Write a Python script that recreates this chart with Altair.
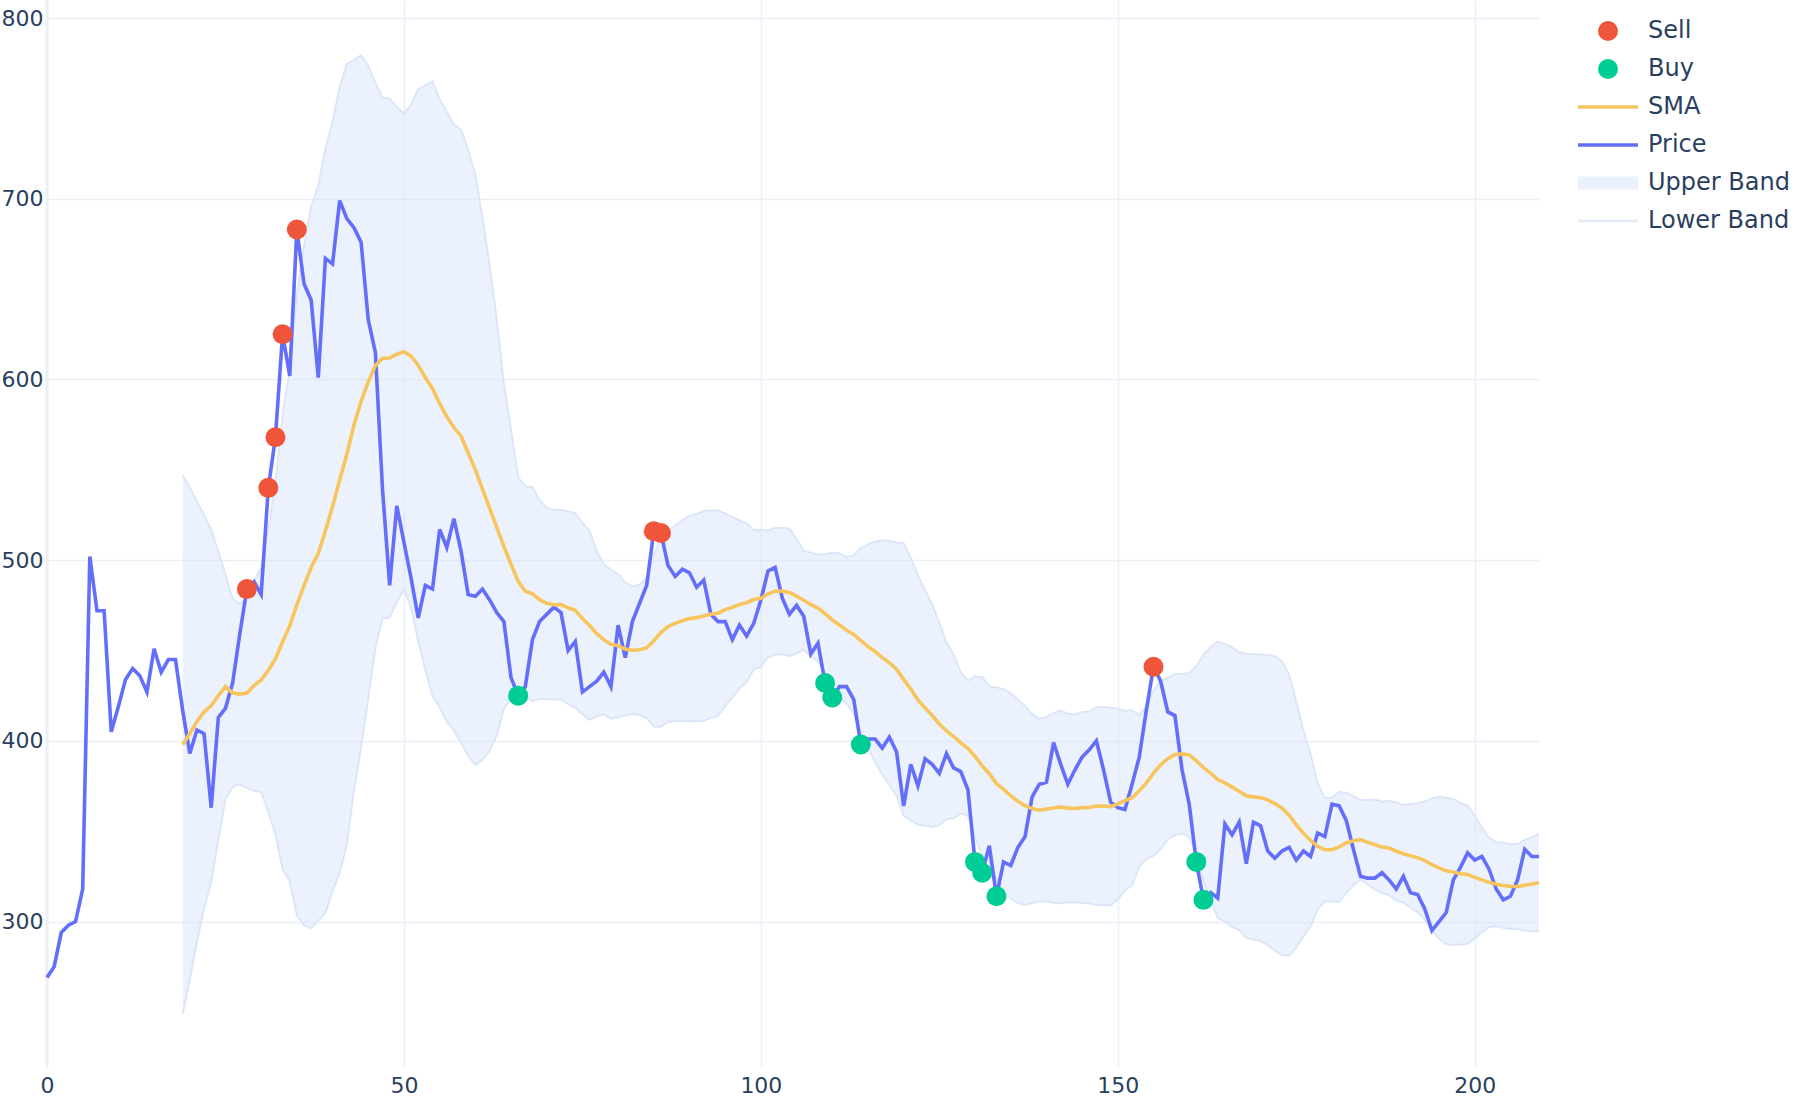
import altair as alt
import pandas as pd

# ---- data ----
price = [
    269, 275, 294, 298, 300, 318, 502, 472, 472, 405,
    419, 434, 440, 436, 427, 451, 438, 445, 445, 417,
    393, 406, 404, 363, 413, 418, 432, 459, 484, 488,
    481, 540, 568, 625, 602, 683, 653, 644, 601, 667,
    664, 699, 689, 684, 676, 633, 615, 539, 486, 530,
    510, 490, 468, 486, 484, 517, 507, 523, 505, 481,
    480, 484, 478, 471, 466, 435, 425, 430, 456, 466,
    470, 474, 471, 450, 455, 427, 430, 433, 438, 430,
    464, 446, 466, 476, 486, 516, 515, 497, 491, 495,
    493, 485, 489, 470, 466, 466, 456, 464, 458, 465,
    478, 494, 496, 479, 470, 475, 469, 448, 454, 432,
    424, 430, 430, 423, 398, 401, 401, 396, 402, 394,
    364, 387, 375, 390, 387, 382, 393, 385, 383, 373,
    333, 327, 342, 314, 333, 331, 341, 347, 369, 376,
    377, 399, 387, 376, 384, 391, 395, 400, 384, 366,
    363, 362, 376, 391, 417, 441, 433, 416, 414, 384,
    365, 333, 312, 316, 313, 354, 348, 355, 332, 355,
    353, 339, 335, 339, 341, 334, 339, 336, 349, 347,
    365, 364, 356, 340, 325, 324, 324, 327, 323, 318,
    325, 316, 315, 307, 295, 300, 305, 323, 330, 338,
    334, 336, 329, 318, 312, 314, 323, 340, 336, 336,
]
sell_idx = [28, 31, 32, 33, 35, 85, 86, 155]
buy_idx = [66, 109, 110, 114, 130, 131, 133, 161, 162]
sma_window = 20

series_names = ["Sell", "Buy", "SMA", "Price", "Upper Band", "Lower Band"]
series_colors = ["#EF553B", "#00CC96", "#F7C55C", "#636EFA", "#EAF1FD", "#E3EBF8"]
series_shapes = [
    "circle",
    "circle",
    "M-3,-0.17L3,-0.17L3,0.17L-3,0.17Z",
    "M-3,-0.17L3,-0.17L3,0.17L-3,0.17Z",
    "M-3,-0.65L3,-0.65L3,0.65L-3,0.65Z",
    "M-3,-0.12L3,-0.12L3,0.12L-3,0.12Z",
]
x_ticks = [0, 50, 100, 150, 200]
y_ticks = [300, 400, 500, 600, 700, 800]

# ---- table ----
df = pd.DataFrame({"t": list(range(len(price))), "price": price})
signal = [None] * len(price)
for i in sell_idx:
    signal[i] = "Sell"
for i in buy_idx:
    signal[i] = "Buy"
df["signal"] = signal

FONT = "DejaVu Sans"
TXT = "#2a3f5f"

x_scale = alt.Scale(domain=[0, 209], nice=False, zero=False)
x_axis = alt.Axis(values=x_ticks, labelPadding=8, labelFlush=False)
x_enc = alt.X("t:Q", title=None, scale=x_scale, axis=x_axis)


def y_enc(field):
    return alt.Y(field, title=None,
                 scale=alt.Scale(domain=[219.5, 810], nice=False, zero=False),
                 axis=alt.Axis(values=y_ticks, labelPadding=4, labelFlush=False))


zero = alt.Chart(pd.DataFrame({"z": [0]})).mark_rule(
    color="#EBF0F8", strokeWidth=3).encode(
    x=alt.X("z:Q", title=None, scale=x_scale, axis=x_axis))

stats = alt.Chart(df).transform_window(
    sma="mean(price)", sd="stdev(price)",
    frame=[-(sma_window - 1), 0], sort=[alt.SortField("t")]
).transform_filter(
    f"datum.t >= {sma_window - 1}"
).transform_calculate(
    upper="datum.sma + 2*datum.sd", lower="datum.sma - 2*datum.sd"
)

band = stats.mark_area(color="#CFDFFA", opacity=0.4).encode(
    x=x_enc, y=y_enc("upper:Q"), y2="lower:Q")
upper_line = stats.mark_line(color="#DCE6F8", strokeWidth=2).encode(
    x=x_enc, y=y_enc("upper:Q"))
lower_line = stats.mark_line(color="#DCE6F8", strokeWidth=2).encode(
    x=x_enc, y=y_enc("lower:Q"))
price_line = alt.Chart(df).mark_line(color="#636EFA", strokeWidth=3.6).encode(
    x=x_enc, y=y_enc("price:Q"))
sma_line = stats.mark_line(color="#F7C55C", strokeWidth=3.6).encode(
    x=x_enc, y=y_enc("sma:Q"))

leg = alt.Legend(title=None, orient="none", legendX=1549, legendY=19)
markers = alt.Chart(df).transform_filter("datum.signal != null").mark_point(
    filled=True, size=400, opacity=1).encode(
    x=x_enc, y=y_enc("price:Q"),
    color=alt.Color("signal:N", scale=alt.Scale(domain=series_names, range=series_colors), legend=leg),
    shape=alt.Shape("signal:N", scale=alt.Scale(domain=series_names, range=series_shapes), legend=leg),
    order=alt.Order("t:Q"),
)

chart = alt.layer(zero, band, upper_line, lower_line, price_line, sma_line, markers).properties(
    width=1492, height=1067,
    padding={"left": 47, "top": 0, "right": 261, "bottom": 33},
    autosize=alt.AutoSizeParams(type="none"),
    background="white",
).configure_view(stroke=None).configure_axis(
    grid=True, gridColor="#EBF0F8", gridWidth=1.5, domain=False, ticks=False,
    labelFont=FONT, labelFontSize=22, labelColor=TXT,
).configure_legend(
    labelFont=FONT, labelFontSize=24, labelColor=TXT, symbolSize=400,
    labelOffset=28, rowPadding=14, symbolOpacity=1, symbolStrokeWidth=0,
)

chart.save("out.html", embed_options={"renderer": "svg", "actions": False})
